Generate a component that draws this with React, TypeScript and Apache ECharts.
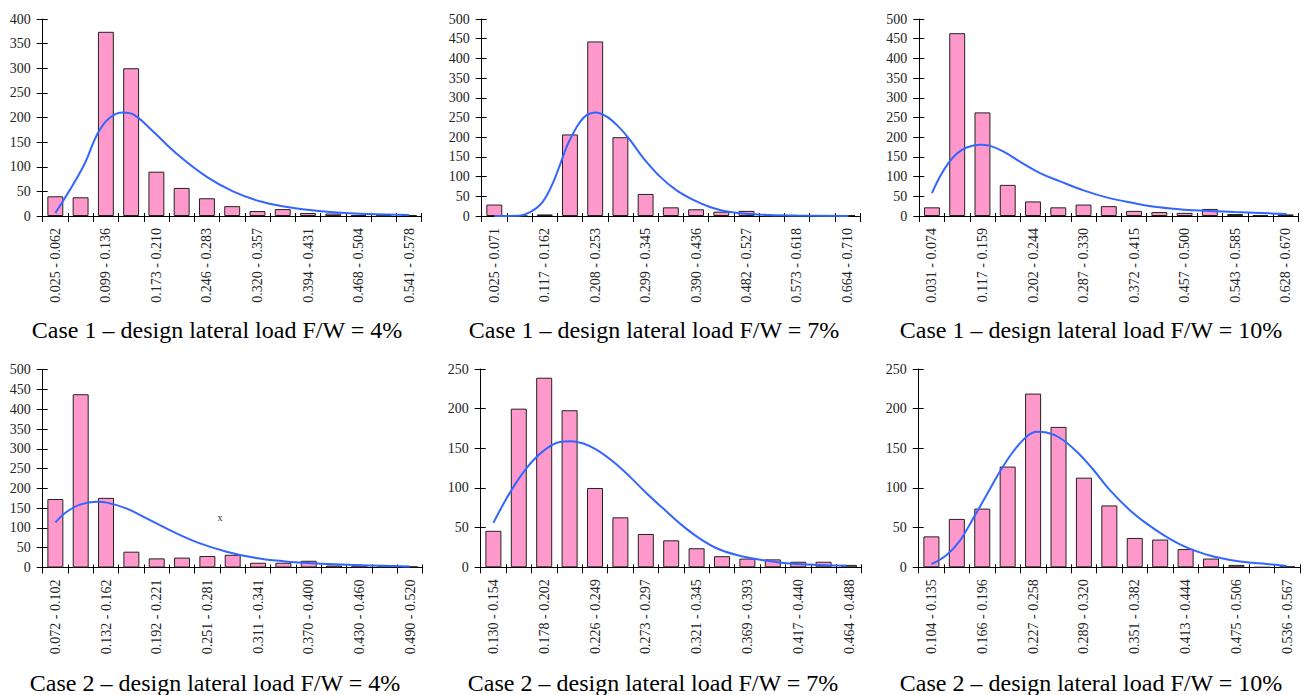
import React, { useEffect, useRef } from "react";
import * as echarts from "echarts";

// ---------- data ----------
const cats1 = ["0.025 - 0.062", "0.062 - 0.099", "0.099 - 0.136", "0.136 - 0.173", "0.173 - 0.210", "0.210 - 0.246", "0.246 - 0.283", "0.283 - 0.320", "0.320 - 0.357", "0.357 - 0.394", "0.394 - 0.431", "0.431 - 0.468", "0.468 - 0.504", "0.504 - 0.541", "0.541 - 0.578"];
const bars1 = [40, 38, 374, 300, 90, 57, 36, 20, 10, 14, 6, 5, 2, 1, 2];
// fitted curve: [bin position, frequency]
const curve1 = [[0.0, 6], [1.09, 99], [1.68, 168], [2.14, 199], [2.67, 210], [3.13, 205], [3.86, 172], [4.79, 127], [5.98, 80], [7.03, 50], [8.09, 30], [9.0, 20], [10.07, 12], [11.0, 7.5], [12.3, 4], [14.0, 2]];

const cats2 = ["0.025 - 0.071", "0.071 - 0.117", "0.117 - 0.162", "0.162 - 0.208", "0.208 - 0.253", "0.253 - 0.299", "0.299 - 0.345", "0.345 - 0.390", "0.390 - 0.436", "0.436 - 0.482", "0.482 - 0.527", "0.527 - 0.573", "0.573 - 0.618", "0.618 - 0.664", "0.664 - 0.710"];
const bars2 = [29, 0, 4, 207, 443, 200, 56, 22, 17, 11, 13, 0, 0, 0, 2];
const curve2 = [[0.0, 0], [0.95, 0.5], [1.42, 10], [1.81, 28], [2.08, 52], [2.34, 86], [2.6, 129], [2.87, 176], [3.13, 210], [3.4, 239], [3.66, 256], [4.0, 263], [4.46, 252], [4.98, 223], [5.38, 193], [5.91, 147], [6.57, 100], [7.23, 65], [7.89, 41], [8.55, 23], [9.35, 10], [10.67, 3], [11.99, 1], [14.04, 0]];

const cats3 = ["0.031 - 0.074", "0.074 - 0.117", "0.117 - 0.159", "0.159 - 0.202", "0.202 - 0.244", "0.244 - 0.287", "0.287 - 0.330", "0.330 - 0.372", "0.372 - 0.415", "0.415 - 0.457", "0.457 - 0.500", "0.500 - 0.543", "0.543 - 0.585", "0.585 - 0.628", "0.628 - 0.670"];
const bars3 = [22, 464, 263, 79, 37, 22, 29, 25, 13, 10, 8, 18, 5, 2, 4];
const curve3 = [[0.0, 58], [0.32, 100], [0.65, 134], [0.98, 158], [1.37, 174], [1.9, 181], [2.3, 178], [2.82, 164], [3.48, 138], [4.28, 109], [5.07, 88], [6.0, 65], [6.98, 46], [7.97, 33], [9.0, 22], [10.0, 16], [11.0, 13], [12.0, 10], [13.0, 7.6], [14.04, 5]];

const cats4 = ["0.072 - 0.102", "0.102 - 0.132", "0.132 - 0.162", "0.162 - 0.192", "0.192 - 0.221", "0.221 - 0.251", "0.251 - 0.281", "0.281 - 0.311", "0.311 - 0.341", "0.341 - 0.370", "0.370 - 0.400", "0.400 - 0.430", "0.430 - 0.460", "0.460 - 0.490", "0.490 - 0.520"];
const bars4 = [173, 438, 176, 40, 23, 25, 29, 32, 12, 12, 17, 5, 5, 3, 3];
const curve4 = [[0.0, 114], [0.45, 141], [0.97, 159], [1.63, 166], [2.03, 164], [2.82, 149], [3.6, 124], [4.66, 90], [5.71, 61], [6.76, 40], [7.82, 25], [9.0, 16], [10.32, 10], [11.63, 6.7], [12.95, 4.2], [14.0, 2.5]];

const cats5 = ["0.130 - 0.154", "0.154 - 0.178", "0.178 - 0.202", "0.202 - 0.226", "0.226 - 0.249", "0.249 - 0.273", "0.273 - 0.297", "0.297 - 0.321", "0.321 - 0.345", "0.345 - 0.369", "0.369 - 0.393", "0.393 - 0.417", "0.417 - 0.440", "0.440 - 0.464", "0.464 - 0.488"];
const bars5 = [46, 200, 239, 198, 100, 63, 42, 34, 24, 14, 11, 10, 7, 7, 3];
const curve5 = [[0.0, 56], [0.52, 87], [1.05, 114], [1.57, 135], [2.1, 150], [2.62, 158], [3.02, 159], [3.54, 156], [4.07, 148], [4.72, 133], [5.38, 114], [6.04, 93], [6.69, 74], [7.35, 55], [8.0, 39], [8.79, 24], [9.58, 15.5], [10.63, 9], [11.94, 4.2], [13.9, 2]];

const cats6 = ["0.104 - 0.135", "0.135 - 0.166", "0.166 - 0.196", "0.196 - 0.227", "0.227 - 0.258", "0.258 - 0.289", "0.289 - 0.320", "0.320 - 0.351", "0.351 - 0.382", "0.382 - 0.413", "0.413 - 0.444", "0.444 - 0.475", "0.475 - 0.506", "0.506 - 0.536", "0.536 - 0.567"];
const bars6 = [39, 61, 74, 127, 219, 177, 113, 78, 37, 35, 23, 11, 3, 0, 1];
const curve6 = [[0.0, 4], [0.6, 15.5], [1.13, 34], [1.65, 62], [2.17, 91], [2.7, 121], [3.22, 146], [3.75, 165], [4.14, 171], [4.53, 170], [5.06, 163], [5.71, 146], [6.37, 123], [7.03, 97], [7.81, 72], [8.47, 55], [9.12, 41], [9.78, 29], [10.44, 20], [11.09, 13.5], [11.75, 9.2], [12.4, 6.3], [13.19, 4.2], [13.98, 1.6]];

const yMax = [400, 500, 500, 500, 250, 250];
const titles = [
  "Case 1 \u2013 design lateral load F/W = 4%",
  "Case 1 \u2013 design lateral load F/W = 7%",
  "Case 1 \u2013 design lateral load F/W = 10%",
  "Case 2 \u2013 design lateral load F/W = 4%",
  "Case 2 \u2013 design lateral load F/W = 7%",
  "Case 2 \u2013 design lateral load F/W = 10%",
];

const CATS = [cats1, cats2, cats3, cats4, cats5, cats6];
const BARS = [bars1, bars2, bars3, bars4, bars5, bars6];
const CURVES = [curve1, curve2, curve3, curve4, curve5, curve6];

// ---------- layout ----------
const LAYOUT = [
  { left: 42.7, top: 19, width: 379, height: 197, tx: 217, ty: 330 },
  { left: 481.7, top: 19, width: 378.3, height: 197, tx: 654, ty: 330 },
  { left: 919.3, top: 19, width: 379, height: 197, tx: 1091, ty: 330 },
  { left: 42.7, top: 369.7, width: 380, height: 197.8, tx: 215, ty: 683 },
  { left: 480.7, top: 369, width: 381, height: 198.3, tx: 653, ty: 683 },
  { left: 918.7, top: 369, width: 381.3, height: 198.3, tx: 1091, ty: 683 },
];

const FONT = "'Liberation Serif', 'Times New Roman', serif";

function buildOption() {
  const grid: any[] = [];
  const xAxis: any[] = [];
  const yAxis: any[] = [];
  const series: any[] = [];
  const graphic: any[] = [];
  CATS.forEach((cats, i) => {
    const L = LAYOUT[i];
    grid.push({ left: L.left, top: L.top, width: L.width, height: L.height });
    // 3 x-axes per grid: labelled category axis (outer ticks), inner-tick axis, hidden value axis for the curve
    xAxis.push({
      type: "category",
      gridIndex: i,
      data: cats,
      position: "bottom",
      axisLine: { show: true, onZero: false, lineStyle: { color: "#000", width: 1 } },
      axisTick: { show: true, interval: 0, length: 6, inside: false, lineStyle: { color: "#000", width: 1 } },
      axisLabel: { interval: 1, rotate: 90, margin: 12, fontFamily: FONT, fontSize: 14, color: "#222" },
      splitLine: { show: false },
    });
    xAxis.push({
      type: "category",
      gridIndex: i,
      data: cats,
      position: "bottom",
      axisLine: { show: false, onZero: false },
      axisTick: { show: true, interval: 0, length: 3, inside: true, lineStyle: { color: "#000", width: 1 } },
      axisLabel: { show: false },
      splitLine: { show: false },
    });
    xAxis.push({
      type: "value",
      gridIndex: i,
      min: -0.5,
      max: cats.length - 0.5,
      show: false,
      axisLine: { onZero: false },
      splitLine: { show: false },
    });
    yAxis.push({
      type: "value",
      gridIndex: i,
      min: 0,
      max: yMax[i],
      interval: 50,
      position: "left",
      axisLine: { show: true, onZero: false, lineStyle: { color: "#000", width: 1 } },
      axisTick: { show: true, length: 6, inside: false, lineStyle: { color: "#000", width: 1 } },
      axisLabel: { margin: 12, fontFamily: FONT, fontSize: 14, color: "#222" },
      splitLine: { show: false },
    });
    yAxis.push({
      type: "value",
      gridIndex: i,
      min: 0,
      max: yMax[i],
      interval: 50,
      position: "left",
      axisLine: { show: false, onZero: false },
      axisTick: { show: true, length: 5, inside: true, lineStyle: { color: "#000", width: 1 } },
      axisLabel: { show: false },
      splitLine: { show: false },
    });
    series.push({
      type: "bar",
      xAxisIndex: 3 * i,
      yAxisIndex: 2 * i,
      data: BARS[i],
      barCategoryGap: "37%",
      itemStyle: { color: "#FF99CC", borderColor: "#222", borderWidth: 1 },
      z: 2,
    });
    series.push({
      type: "line",
      xAxisIndex: 3 * i + 2,
      yAxisIndex: 2 * i,
      data: CURVES[i],
      smooth: 0.4,
      symbol: "none",
      lineStyle: { color: "#3366FF", width: 2 },
      z: 3,
    });
    graphic.push({
      type: "text",
      x: L.tx,
      y: L.ty,
      style: {
        text: titles[i],
        align: "center",
        verticalAlign: "middle",
        fontFamily: FONT,
        fontSize: 24,
        fill: "#000",
      },
    });
  });
  graphic.push({
    type: "text",
    x: 220,
    y: 517,
    style: { text: "x", align: "center", verticalAlign: "middle", fontFamily: FONT, fontSize: 10, fill: "#333" },
  });
  return { animation: false, backgroundColor: "#fff", grid, xAxis, yAxis, series, graphic };
}

export default function App() {
  const ref = useRef<HTMLDivElement>(null);
  useEffect(() => {
    if (!ref.current) return;
    const chart = echarts.init(ref.current, null, { renderer: "svg" });
    chart.setOption(buildOption());
    return () => chart.dispose();
  }, []);
  return (
    <div
      ref={ref}
      style={{ position: "fixed", left: 0, top: 0, width: 1303, height: 695, background: "#fff" }}
    />
  );
}
